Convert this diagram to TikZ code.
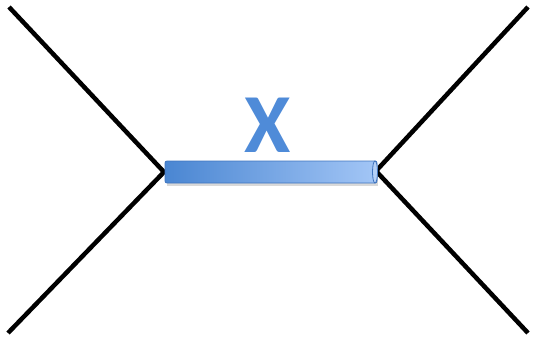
\documentclass[tikz,border=0pt]{standalone}
\usepackage{fontspec}
\setmainfont{Carlito}
\definecolor{xblue}{HTML}{4F8BD8}
\definecolor{barL}{HTML}{4A86D2}
\definecolor{barR}{HTML}{A3C6F6}
\definecolor{barEdge}{HTML}{3F74BE}
\begin{document}
\begin{tikzpicture}[x=1pt,y=-1pt,
  leg/.style={line width=4.5pt,black},
  lbl/.style={text=xblue,font=\bfseries\fontsize{84}{84}\selectfont,inner sep=0pt,anchor=base}]
\useasboundingbox (0,0) rectangle (535,340);
\coordinate (L) at (164,172);
\coordinate (R) at (376,171);
\coordinate (TL) at (9,7);
\coordinate (BL) at (8,333);
\coordinate (TR) at (528,7);
\coordinate (BR) at (528,333);
\draw[leg] (TL) -- (L) -- (BL);
\draw[leg] (TR) -- (R) -- (BR);
% bar (cylinder)
\fill[black!15] (167,166) rectangle (378,186);
\shade[left color=barL,right color=barR,draw=barEdge,line width=0.8pt,rounded corners=2pt]
  (165,161) rectangle (377,183);
\draw[barEdge,line width=0.8pt,fill=barR!80!white] (375,172) ellipse (2.5 and 11);
\node[lbl] (X) at (268,152) {X};
\end{tikzpicture}
\end{document}
